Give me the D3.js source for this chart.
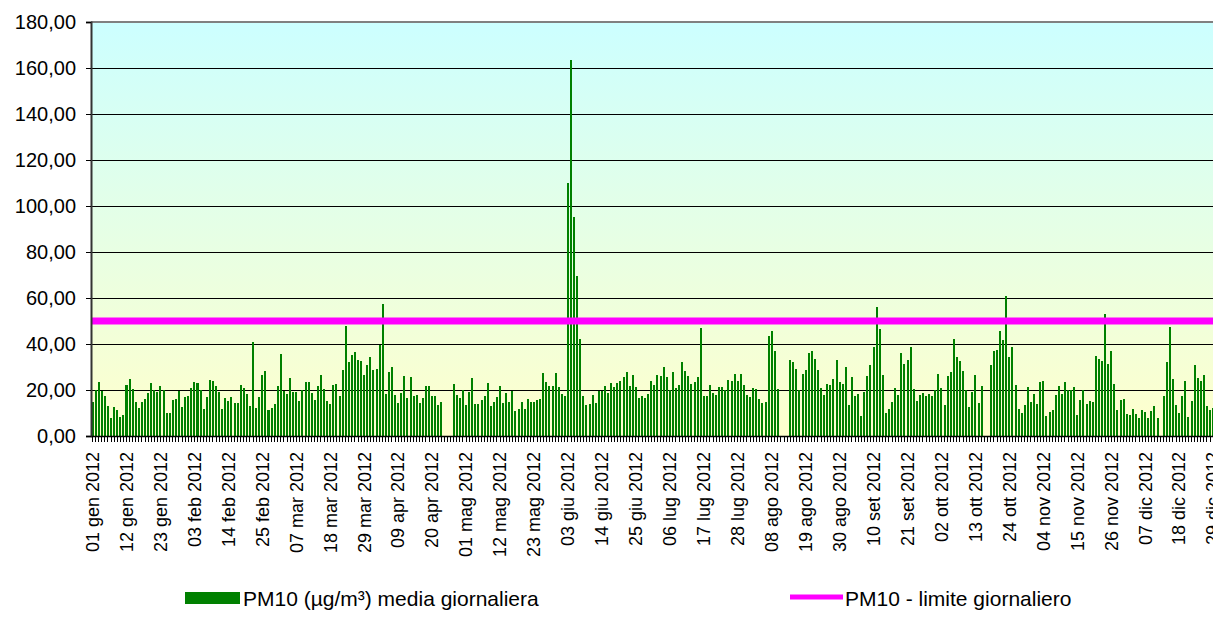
<!DOCTYPE html>
<html>
<head>
<meta charset="utf-8">
<script src="https://cdn.jsdelivr.net/npm/d3@7"></script>
<style>
  body { margin: 0; background: #fff; overflow: hidden; }
  svg { display: block; font-family: "Liberation Sans", Arial, sans-serif; }
</style>
</head>
<body>
<svg id="chart" width="1213" height="639"></svg>
<script>
// PM10 daily averages 2012 (µg/m³), null = no data
const gen = [14.8, 20, 23.5, 19.4, 17.4, 13, 7.8, 12.6, 11.3, 8.3, 9.1, 22.2, 24.8, 20.4, 14.8, 12.2,
             14.8, 16.1, 18.7, 23, 20, 19.1, 21.7, 20, 10, 10, 15.7, 16.1, 19.6, 12.6, 17];
const feb = [17.4, 20.9, 23.5, 23, 20, 11.7, 17, 24.3, 23.9, 21.7, 19.1, 11.7, 16.5, 15.2, 17,
             14.3, 14.3, 22.2, 20.9, 18.3, 13, 40.9, 12.2, 17, 26.5, 28.3, 11.3, 12.2, 13.9];
const mar = [21.7, 35.7, 19.6, 18.3, 25.2, 19.1, 19.1, 15.2, 20, 23.5, 23.5, 18.7, 15.7, 21.7, 26.5,
             20.4, 15.2, 13.9, 22.2, 22.6, 17.4, 28.7, 47.8, 32.2, 35.2, 36.5, 33, 32.6, 26.5, 30.9, 34.3];
const apr = [28.7, 29.1, 39.6, 57.4, 18.3, 27.8, 30, 17.8, 14.3, 18.7, 26.1, 16.5, 25.7, 17.4, 17.8,
             14.3, 16.5, 21.7, 21.7, 17.4, 17.4, 13.5, 14.8, null, null, null, 22.6, 17.8, 16.5, 20];
const mag = [13.5, 19.1, 25.2, 13.9, 13.9, 15.7, 17.4, 23, 13, 14.8, 17, 21.7, 14.3, 18.7, 14.8,
             19.6, 10.9, 11.7, 14.8, 11.7, 16.1, 14.8, 14.8, 15.7, 16.1, 27.4, 23.5, 21.7, 21.7, 27.4, 21.3];
const giu = [18.3, 17.4, 110, 163.5, 95.2, 69.6, 42.2, 17.4, 13.5, 13.9, 17.8, 14.3, 19.6, 19.6, 21.7,
             18.7, 23, 21.3, 23, 23.9, 25.7, 27.8, 21.7, 26.5, 21.3, 16.5, 17.4, 16.5, 18.3, 23.9];
const lug = [22.2, 26.5, 26.1, 30, 25.7, 20, 27.8, 20.9, 22.2, 32.2, 28.3, 26.1, 22.6, 23.5, 25.7,
             47, 17.4, 17.4, 22.2, 18.7, 17.8, 21.3, 21.3, 20, 24.3, 23.9, 27, 23.9, 27, 22.2, 17.8];
const ago = [17, 20.9, 20.4, 16.1, 14.3, 14.8, 43.5, 45.7, 37, 20.4, null, null, null, 33, 32.2,
             29.1, 20, 27, 28.7, 36.1, 37, 33.5, 28.7, 20.9, 17.8, 22.6, 22.2, 24.8, 33, 23.5, 22.6];
const set = [30, 13.5, 25.7, 17.4, 18.3, 8.7, 19.1, 26.1, 30.9, 38.7, 56.1, 46.5, 26.5, 10, 11.7,
             14.8, 20.9, 17.8, 36.1, 31.3, 33, 38.7, 20.4, 15.2, 17.8, 18.7, 17.4, 18.3, 17.4, 20];
const ott = [27, 20.9, 13.5, 26.1, 27.8, 42.2, 34.3, 32.6, 28.3, 20, 12.6, 19.1, 26.5, 14.3, 21.7,
             null, null, 30.9, 37, 37.4, 45.7, 41.7, 60.9, 34.3, 38.7, 22.2, 11.7, 10, 13.5, 21.3, 14.8];
const nov = [18.3, 13.9, 23.5, 23.9, 8.7, 10.4, 11.3, 17.8, 21.7, 18.3, 23.5, 20, 20, 21.3, 9.1,
             15.7, 20, 13.9, 15.2, 14.8, 34.8, 33.5, 32.6, 53, 31.3, 37, 22.6, 11.3, 15.7, 16.1];
const dic = [9.6, 9.1, 11.7, 9.6, 7.8, 11.3, 10.4, 7.8, 10.9, 13, 7.8, null, 17.4, 32.2, 47.4,
             24.8, 13.5, 10, 17.4, 23.9, 8.3, 15.2, 30.9, 25.2, 23.9, 26.5, 13, 11.3, 12, 14, 16];

const monthValues = [gen, feb, mar, apr, mag, giu, lug, ago, set, ott, nov, dic];
const monthNames = ['gen', 'feb', 'mar', 'apr', 'mag', 'giu', 'lug', 'ago', 'set', 'ott', 'nov', 'dic'];
const yTicks = [0, 20, 40, 60, 80, 100, 120, 140, 160, 180];
const dailyLimit = 50;
const legendLabels = ['PM10 (µg/m³) media giornaliera', 'PM10 - limite giornaliero'];

class DailyChart {

    constructor(_config, _data) {
        this.config = {
            parentElement: _config.parentElement,
            margin: { top: 22, left: 91 },
            plotHeight: 414,
            step: 3.087
        }
        this.data = _data;
        this.initVis();
    }

    initVis() {
        let vis = this;

        vis.svg = d3.select(vis.config.parentElement);
        vis.height = vis.config.plotHeight;
        vis.width = vis.data.length * vis.config.step;

        vis.chart = vis.svg.append('g')
            .attr('transform', `translate(${vis.config.margin.left}, ${vis.config.margin.top})`);

        vis.xScale = d3.scaleBand()
            .domain(vis.data.map(d => d.i))
            .range([0, vis.width])
            .paddingInner(0.35)
            .paddingOuter(0.175);

        vis.yScale = d3.scaleLinear()
            .domain([0, 180])
            .range([vis.height, 0]);

        // background gradient, cyan on top to light yellow at the bottom
        const grad = vis.svg.append('defs').append('linearGradient')
            .attr('id', 'bg')
            .attr('x1', 0).attr('y1', 0).attr('x2', 0).attr('y2', 1);
        grad.append('stop').attr('offset', '0%').attr('stop-color', '#ccffff');
        grad.append('stop').attr('offset', '100%').attr('stop-color', '#ffffcc');

        vis.chart.append('rect')
            .attr('width', vis.width)
            .attr('height', vis.height)
            .attr('fill', 'url(#bg)');

        vis.updateVis();
    }

    updateVis() {
        let vis = this;
        const locale = d3.formatLocale({ decimal: ',', thousands: '.', grouping: [3], currency: ['', '€'] });
        vis.yFormat = locale.format('.2f');
        vis.renderVis();
    }

    renderVis() {
        let vis = this;

        // gridlines
        vis.chart.selectAll('.grid')
            .data(yTicks.filter(d => d > 0 && d < 180))
            .join('line')
                .attr('class', 'grid')
                .attr('x1', 0)
                .attr('x2', vis.width)
                .attr('y1', d => Math.round(vis.yScale(d)) + 0.5)
                .attr('y2', d => Math.round(vis.yScale(d)) + 0.5)
                .attr('stroke', '#000')
                .attr('stroke-width', 1);

        // bars
        vis.chart.selectAll('.bar')
            .data(vis.data.filter(d => d.value != null))
            .join('rect')
                .attr('class', 'bar')
                .attr('fill', '#008000')
                .attr('shape-rendering', 'crispEdges')
                .attr('x', d => vis.xScale(d.i))
                .attr('width', vis.xScale.bandwidth())
                .attr('y', d => vis.yScale(d.value))
                .attr('height', d => vis.height - vis.yScale(d.value));

        // daily limit
        vis.chart.append('line')
            .attr('x1', 0)
            .attr('x2', vis.width)
            .attr('y1', vis.yScale(dailyLimit))
            .attr('y2', vis.yScale(dailyLimit))
            .attr('stroke', '#ff00ff')
            .attr('stroke-width', 7);

        // plot border top
        vis.chart.append('line')
            .attr('x1', 0).attr('x2', vis.width)
            .attr('y1', 0).attr('y2', 0)
            .attr('stroke', '#808080')
            .attr('stroke-width', 2);

        // y axis
        const yAxis = d3.axisLeft(vis.yScale)
            .tickValues(yTicks)
            .tickFormat(vis.yFormat)
            .tickSize(5)
            .tickPadding(10);

        const yAxisGroup = vis.chart.append('g')
            .attr('class', 'axis y-axis')
            .call(yAxis);
        yAxisGroup.select('.domain').attr('stroke', '#333').attr('stroke-width', 2);
        yAxisGroup.selectAll('line').attr('stroke', '#000');
        yAxisGroup.selectAll('text')
            .attr('font-size', 20)
            .attr('fill', '#000');

        // x axis: tick for every day, label every 11 days
        const xAxis = d3.axisBottom(vis.xScale)
            .tickValues(vis.data.map(d => d.i))
            .tickFormat(i => i % 11 === 0 ? vis.data[i].label : '')
            .tickSize(6)
            .tickSizeOuter(0);

        const xAxisGroup = vis.chart.append('g')
            .attr('class', 'axis x-axis')
            .attr('transform', `translate(0,${vis.height})`)
            .call(xAxis);
        xAxisGroup.select('.domain').attr('stroke', '#000').attr('stroke-width', 1.5);
        xAxisGroup.selectAll('line').attr('stroke', '#000').attr('shape-rendering', 'crispEdges');
        xAxisGroup.selectAll('text')
            .attr('font-size', 18)
            .attr('fill', '#000')
            .style('text-anchor', 'end')
            .attr('x', -16)
            .attr('y', 0)
            .attr('dy', '0.35em')
            .attr('transform', 'rotate(-90)');

        // legend
        const legend = vis.svg.append('g').attr('class', 'legend');
        legend.append('rect')
            .attr('x', 185).attr('y', 592)
            .attr('width', 55).attr('height', 12)
            .attr('fill', '#008000');
        legend.append('text')
            .attr('x', 243).attr('y', 606)
            .attr('font-size', 21)
            .text(legendLabels[0]);
        legend.append('line')
            .attr('x1', 790).attr('x2', 843)
            .attr('y1', 597).attr('y2', 597)
            .attr('stroke', '#ff00ff')
            .attr('stroke-width', 5);
        legend.append('text')
            .attr('x', 845).attr('y', 606)
            .attr('font-size', 21)
            .text(legendLabels[1]);
    }
}

const days = [];
monthValues.forEach((vals, m) => {
    vals.forEach((v, j) => {
        days.push({
            i: days.length,
            value: v,
            label: `${String(j + 1).padStart(2, '0')} ${monthNames[m]} 2012`
        });
    });
});

new DailyChart({ parentElement: '#chart' }, days);
</script>
</body>
</html>
